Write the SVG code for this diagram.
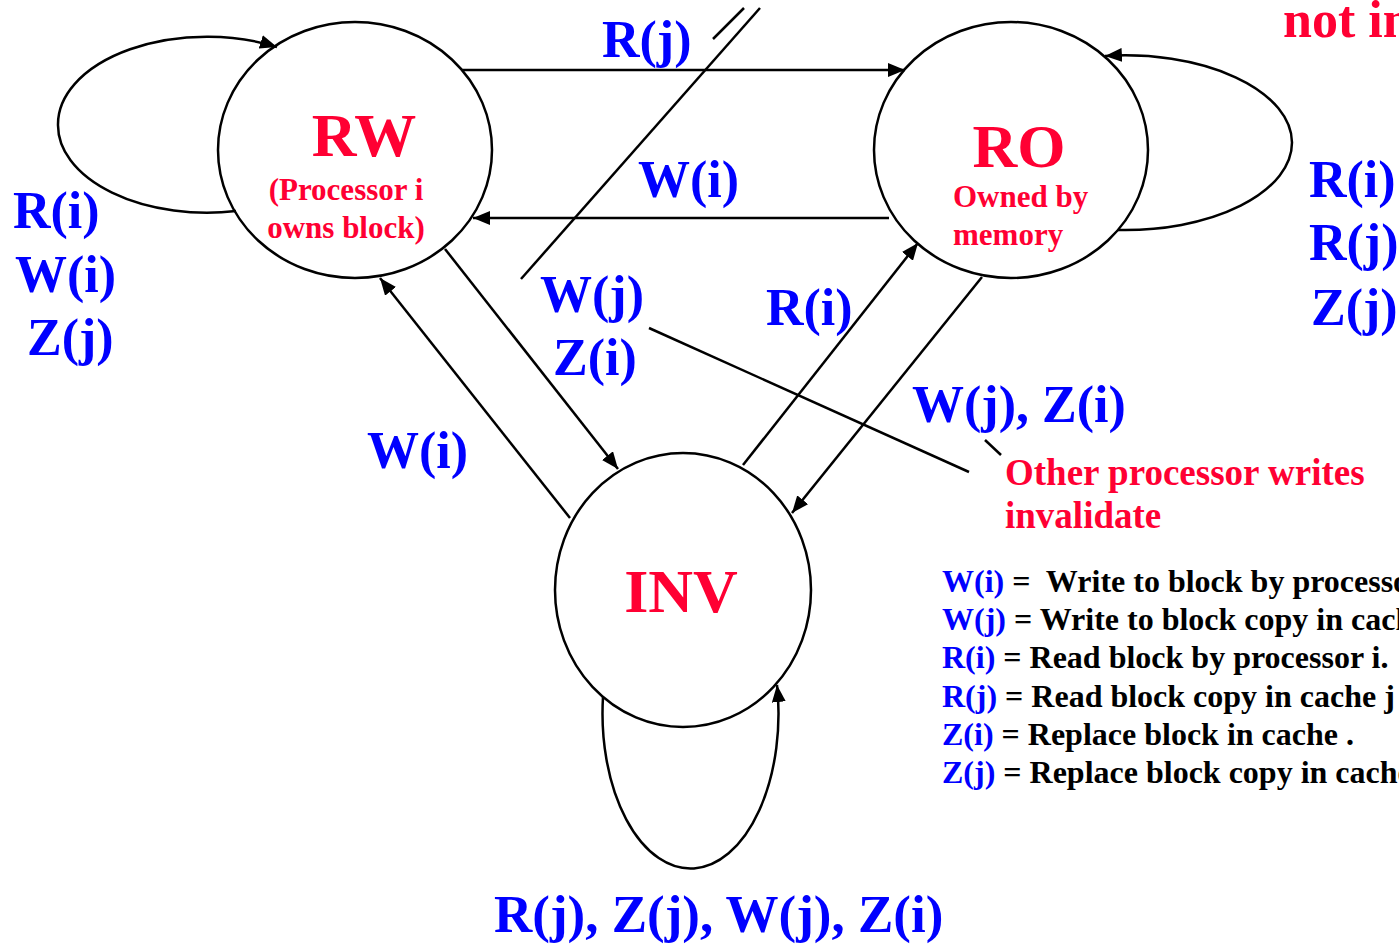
<svg xmlns="http://www.w3.org/2000/svg" width="1399" height="944" viewBox="0 0 1399 944">
<style>
text { font-family: "Liberation Serif", "Times New Roman", serif; font-weight: bold; white-space: pre; }
.node { fill: none; stroke: #000; stroke-width: 2.5; }
.edge { fill: none; stroke: #000; stroke-width: 2.5; }
.arrow { marker-end: url(#ah); }
.red { fill: #FF0033; }
.blue { fill: #0000FF; }
.blk { fill: #000; }
.big { font-size: 62px; }
.sub { font-size: 31px; }
.lbl { font-size: 52px; }
.leg { font-size: 32px; }
.note { font-size: 37px; }
</style>
<defs>
<marker id="ah" markerUnits="userSpaceOnUse" markerWidth="18" markerHeight="14" refX="17" refY="7" orient="auto">
<path d="M0,0 L17,7 L0,14 z" fill="#000"/>
</marker>
</defs>
<rect width="1399" height="944" fill="#fff"/>
<g id="connectors">
<line class="edge arrow" x1="462" y1="70" x2="905" y2="70"/>
<line class="edge arrow" x1="889" y1="218" x2="473" y2="218"/>
<line class="edge arrow" x1="445" y1="249" x2="618" y2="469"/>
<line class="edge arrow" x1="570" y1="518" x2="380" y2="278"/>
<line class="edge arrow" x1="743" y1="465" x2="918" y2="243"/>
<line class="edge arrow" x1="982" y1="277" x2="792" y2="513"/>
<path class="edge arrow" d="M 236,211 A 149 87.5 0 0 1 58,124.5 A 149 87.5 0 0 1 277,47"/>
<path class="edge arrow" d="M 1118,230 A 167 87.5 0 0 0 1292,142.5 A 167 87.5 0 0 0 1105,56"/>
<path class="edge arrow" d="M 603,697 A 88 155 0 1 0 777,685"/>
<line class="edge" x1="521" y1="279" x2="760" y2="8"/>
<line class="edge" x1="713" y1="39" x2="744" y2="8"/>
<line class="edge" x1="649" y1="328" x2="969" y2="472"/>
<line class="edge" x1="985" y1="440" x2="1001" y2="455"/>
</g>
<g id="node-rw">
<ellipse class="node" cx="355" cy="150" rx="137" ry="128"/>
<text class="red big" x="364" y="156" text-anchor="middle">RW</text>
<text class="red sub" x="346" y="200" text-anchor="middle">(Processor i</text>
<text class="red sub" x="346" y="238" text-anchor="middle">owns block)</text>
</g>
<g id="node-ro">
<ellipse class="node" cx="1011" cy="150" rx="137" ry="128"/>
<text class="red big" x="1019" y="167" text-anchor="middle">RO</text>
<text class="red sub" x="953" y="207">Owned by</text>
<text class="red sub" x="953" y="245">memory</text>
</g>
<g id="node-inv">
<ellipse class="node" cx="683" cy="590" rx="128" ry="137"/>
<text class="red big" x="681" y="612" text-anchor="middle">INV</text>
</g>
<g id="labels">
<text class="blue lbl" x="602" y="57">R(j)</text>
<text class="blue lbl" x="638" y="197">W(i)</text>
<text class="blue lbl" x="13" y="228">R(i)</text>
<text class="blue lbl" x="15" y="292">W(i)</text>
<text class="blue lbl" x="27" y="355">Z(j)</text>
<text class="blue lbl" x="1309" y="197">R(i)</text>
<text class="blue lbl" x="1309" y="260">R(j)</text>
<text class="blue lbl" x="1311" y="325">Z(j)</text>
<text class="red lbl" x="1283" y="37">not in</text>
<text class="blue lbl" x="540" y="312">W(j)</text>
<text class="blue lbl" x="553" y="375">Z(i)</text>
<text class="blue lbl" x="766" y="325">R(i)</text>
<text class="blue lbl" x="912" y="422">W(j), Z(i)</text>
<text class="blue lbl" x="367" y="468">W(i)</text>
<text class="blue lbl" x="494" y="932" style="font-size:53px">R(j), Z(j), W(j), Z(i)</text>
<text class="red note" x="1005" y="485">Other processor writes</text>
<text class="red note" x="1005" y="528">invalidate</text>
</g>
<g id="legend">
<text class="leg" x="942" y="592"><tspan class="blue">W(i)</tspan><tspan class="blk"> =  Write to block by processor</tspan></text>
<text class="leg" x="942" y="630"><tspan class="blue">W(j)</tspan><tspan class="blk"> = Write to block copy in cache</tspan></text>
<text class="leg" x="942" y="668"><tspan class="blue">R(i)</tspan><tspan class="blk"> = Read block by processor i.</tspan></text>
<text class="leg" x="942" y="707"><tspan class="blue">R(j)</tspan><tspan class="blk"> = Read block copy in cache j</tspan></text>
<text class="leg" x="942" y="745"><tspan class="blue">Z(i)</tspan><tspan class="blk"> = Replace block in cache .</tspan></text>
<text class="leg" x="942" y="783"><tspan class="blue">Z(j)</tspan><tspan class="blk"> = Replace block copy in cache</tspan></text>
</g>
</svg>
